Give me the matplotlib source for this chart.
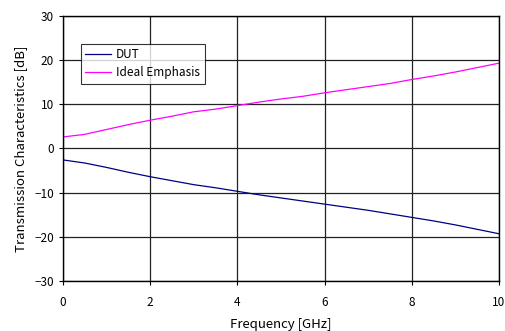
import matplotlib.pyplot as plt

plt.rcParams['font.family'] = ['Noto Sans CJK JP', 'DejaVu Sans']

freq = [0.0, 0.5, 1.0, 1.5, 2.0, 2.5, 3.0, 3.5, 4.0, 4.5, 5.0,
        5.5, 6.0, 6.5, 7.0, 7.5, 8.0, 8.5, 9.0, 9.5, 10.0]
dut = [-2.6, -3.3, -4.3, -5.4, -6.4, -7.3, -8.2, -8.9, -9.7, -10.5, -11.2,
       -11.9, -12.6, -13.3, -14.0, -14.8, -15.6, -16.4, -17.3, -18.3, -19.3]
ideal = [2.6, 3.2, 4.3, 5.4, 6.4, 7.3, 8.3, 8.9, 9.7, 10.5, 11.2,
         11.8, 12.6, 13.3, 14.0, 14.7, 15.6, 16.4, 17.3, 18.3, 19.3]

fig = plt.figure(figsize=(5.05, 3.31), dpi=100)
ax = fig.add_axes([0.125, 0.151, 0.863, 0.801])

ax.plot(freq, dut, color='#000080', linewidth=0.9, label='DUT')
ax.plot(freq, ideal, color='#ff00ff', linewidth=0.9, label='Ideal Emphasis')

ax.set_xlim(0, 10)
ax.set_ylim(-30, 30)
ax.set_xticks(range(0, 11, 2))
ax.set_yticks(range(-30, 31, 10))
ax.grid(True, color='#222222', linewidth=0.9)
for s in ax.spines.values():
    s.set_linewidth(1.0)
ax.tick_params(axis='both', labelsize=8.5, length=3, width=0.8)
ax.tick_params(axis='x', pad=8)

ax.set_xlabel('Frequency [GHz]', fontsize=9.5, labelpad=6)
ax.set_ylabel('Transmission Characteristics [dB]', fontsize=9.5, labelpad=5)

leg = ax.legend(loc='upper left', bbox_to_anchor=(0.04, 0.895), fontsize=8.5,
                frameon=True, fancybox=False, shadow=False, handlelength=2.2,
                borderpad=0.4, labelspacing=0.4, borderaxespad=0,
                handletextpad=0.4)
leg.get_frame().set_edgecolor('black')
leg.get_frame().set_linewidth(0.8)

fig.savefig('out.png', dpi=100)
